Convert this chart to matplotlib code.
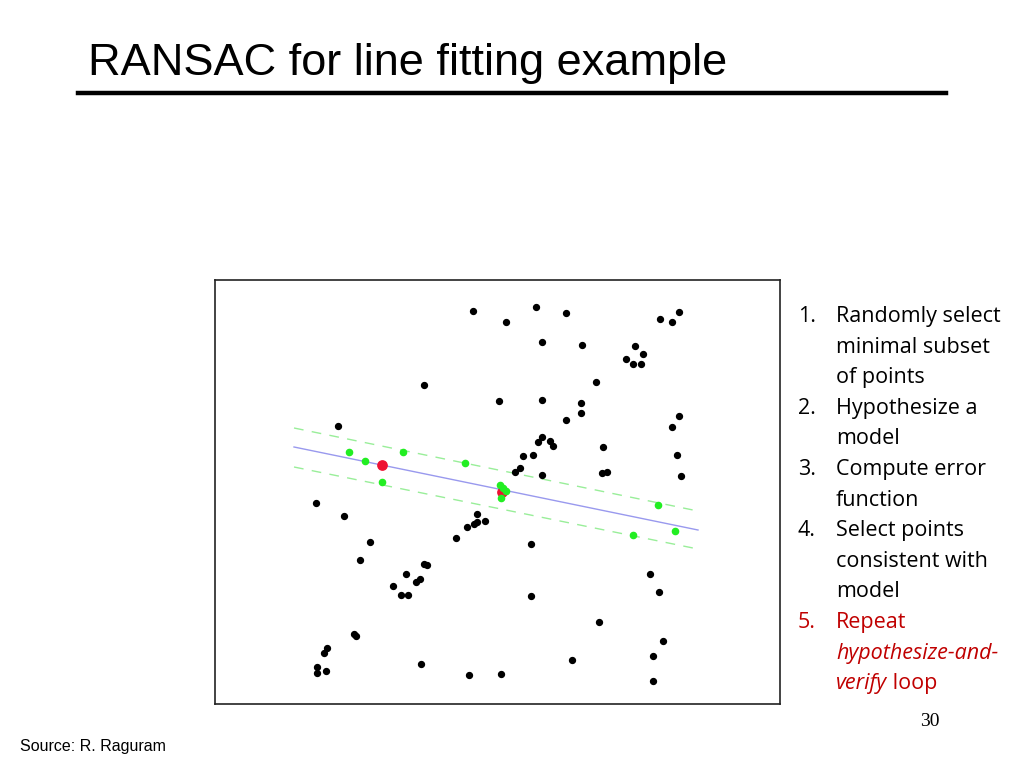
import matplotlib
matplotlib.use("Agg")
import matplotlib.pyplot as plt

# point positions (pixel units of the 1024x768 picture)
outlier_x = [473, 424, 499, 338, 536, 506, 566, 542, 582, 660, 672, 679, 635, 626, 633, 641,
             643, 596, 542, 581, 581, 566, 679, 672, 542, 538, 550, 553, 603, 523, 533, 677,
             520, 515, 542, 602, 607, 681, 316, 344, 370, 360, 456, 467, 474, 477, 477, 485,
             424, 427, 406, 420, 416, 393, 401, 408, 354, 356, 327, 324, 317, 317, 326, 421,
             469, 501, 531, 531, 650, 659, 599, 663, 653, 572, 653]
outlier_y = [311, 385, 401, 426, 307, 322, 313, 342, 345, 319, 322, 312, 346, 359, 364, 364,
             354, 382, 400, 403, 413, 420, 416, 427, 437, 442, 441, 446, 447, 456, 455, 455,
             468, 472, 475, 473, 472, 476, 503, 516, 542, 560, 538, 527, 524, 522, 514, 521,
             564, 565, 574, 579, 582, 586, 595, 595, 634, 636, 648, 653, 667, 673, 671, 664,
             675, 674, 544, 596, 574, 592, 622, 641, 656, 660, 681]

inlier_x = [349, 365, 403, 465, 382, 500, 503, 506, 501, 658, 675, 633]
inlier_y = [452, 461, 452, 463, 482, 485, 488, 491, 498, 505, 531, 535]

sample_x = [382, 502]
sample_y = [465, 492]

# fitted line and the two threshold lines (end points)
fit_x = [294, 698]
fit_y = [447, 530]
upper_x = [294, 693]
upper_y = [428, 510]
lower_x = [294, 693]
lower_y = [467, 548]

steps = [
    ("1.", "Randomly select"), ("", "minimal subset"), ("", "of points"),
    ("2.", "Hypothesize a"), ("", "model"),
    ("3.", "Compute error"), ("", "function"),
    ("4.", "Select points"), ("", "consistent with"), ("", "model"),
]

W, H = 1024, 768
fig = plt.figure(figsize=(W / 100, H / 100), dpi=100)


def fx(px):
    return px / W


def fy(py):
    return 1 - py / H


# title and rule
fig.text(fx(88), fy(75), "RANSAC for line fitting example", fontsize=32.5,
         family=["Liberation Sans Narrow", "Liberation Sans"], va="baseline")
fig.add_artist(plt.Line2D([fx(78), fx(946)], [fy(93), fy(93)], color="black", lw=3.2))

# the plot box
ax = fig.add_axes([fx(215), fy(704), fx(780) - fx(215), fy(280) - fy(704)])
ax.set_xlim(215, 780)
ax.set_ylim(704, 280)
ax.set_xticks([])
ax.set_yticks([])
for s in ax.spines.values():
    s.set_linewidth(1.2)
    s.set_color("#222222")

ax.plot(upper_x, upper_y, color="#99ee99", lw=1, ls=(0, (7, 6)))
ax.plot(lower_x, lower_y, color="#99ee99", lw=1, ls=(0, (7, 6)))
ax.plot(fit_x, fit_y, color="#9999ee", lw=1)
ax.scatter(outlier_x, outlier_y, s=18, color="black", zorder=3)
ax.scatter(sample_x, sample_y, s=45, color="#ee1133", zorder=4)
ax.scatter(inlier_x, inlier_y, s=20, color="#22ee22", zorder=5)

# numbered steps
body = "Open Sans"
fs = 15.5
y0, dy = 322, 30.6
for i, (num, line) in enumerate(steps):
    y = y0 + i * dy
    if num:
        fig.text(fx(798), fy(y), num, fontsize=fs, family=body, va="baseline")
    fig.text(fx(836), fy(y), line, fontsize=fs, family=body, va="baseline")

red = "#c00000"
y = y0 + 10 * dy
fig.text(fx(798), fy(y), "5.", fontsize=fs, family=body, va="baseline", color=red)
fig.text(fx(836), fy(y), "Repeat", fontsize=fs, family=body, va="baseline", color=red)
fig.text(fx(836), fy(y + dy), "hypothesize-and-", fontsize=fs, family=body,
         style="italic", va="baseline", color=red)
t = fig.text(fx(836), fy(y + 2 * dy), "verify", fontsize=fs, family=body,
             style="italic", va="baseline", color=red)
ax.annotate(" loop", xy=(1, 0), xycoords=t, va="bottom", ha="left",
            fontsize=fs, family=body, color=red, annotation_clip=False)

# footer
fig.text(fx(930), fy(726), "30", fontsize=14, family="Liberation Serif",
         ha="center", va="baseline")
fig.text(fx(20), fy(751), "Source: R. Raguram", fontsize=11.5,
         family="Liberation Sans", va="baseline")

fig.savefig("out.png", dpi=100)
